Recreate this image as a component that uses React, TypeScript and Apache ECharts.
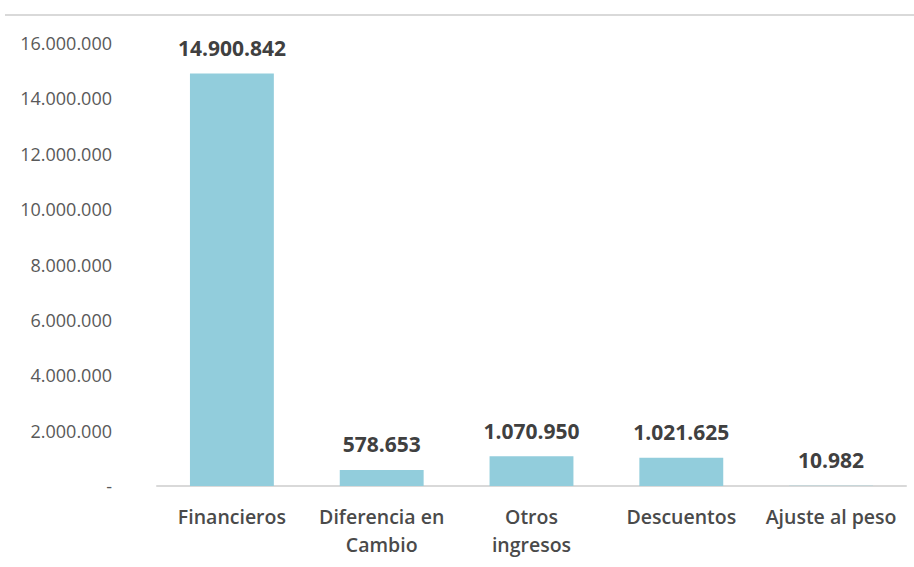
import React, { useEffect, useRef } from "react";
import * as echarts from "echarts";

const categories = ["Financieros", "Diferencia en\nCambio", "Otros\ningresos", "Descuentos", "Ajuste al peso"];
const values = [14900842, 578653, 1070950, 1021625, 10982];
const yMax = 16000000;
const yInterval = 2000000;

const fmt = (v: number) => {
  if (v === 0) return "-";
  return Math.round(v).toString().replace(/\B(?=(\d{3})+(?!\d))/g, ".");
};

export default function App() {
  const ref = useRef<HTMLDivElement>(null);
  useEffect(() => {
    if (!ref.current) return;
    const chart = echarts.init(ref.current, undefined, { renderer: "svg" });
    chart.setOption({
      animation: false,
      backgroundColor: "#ffffff",
      textStyle: { fontFamily: "Open Sans" },
      grid: { left: 157, right: 8, top: 43, bottom: 81, containLabel: false },
      graphic: [
        {
          type: "line",
          shape: { x1: 5, y1: 15, x2: 914, y2: 15 },
          style: { stroke: "#d9d9d9", lineWidth: 2 },
        },
      ],
      xAxis: {
        type: "category",
        data: categories,
        axisLine: { show: true, lineStyle: { color: "#d9d9d9", width: 2 } },
        axisTick: { show: false },
        axisLabel: {
          interval: 0,
          color: "#4a4a4a",
          fontSize: 19.5,
          fontWeight: 600,
          fontFamily: "Open Sans",
          margin: 16,
          lineHeight: 28,
        },
      },
      yAxis: {
        type: "value",
        min: 0,
        max: yMax,
        interval: yInterval,
        axisLine: { show: false },
        axisTick: { show: false },
        splitLine: { show: false },
        axisLabel: {
          color: "#595959",
          fontSize: 18,
          fontFamily: "Open Sans",
          margin: 45,
          formatter: (v: number) => fmt(v),
        },
      },
      series: [
        {
          type: "bar",
          data: values,
          barWidth: "56%",
          itemStyle: { color: "#92CDDC" },
          label: {
            show: true,
            position: "top",
            distance: 15,
            color: "#404040",
            fontSize: 21,
            fontWeight: "bold",
            fontFamily: "Open Sans",
            formatter: (p: any) => fmt(p.value),
          },
        },
      ],
    });
    return () => chart.dispose();
  }, []);
  return <div ref={ref} style={{ width: 914, height: 567, position: "absolute", left: 0, top: 0 }} />;
}
